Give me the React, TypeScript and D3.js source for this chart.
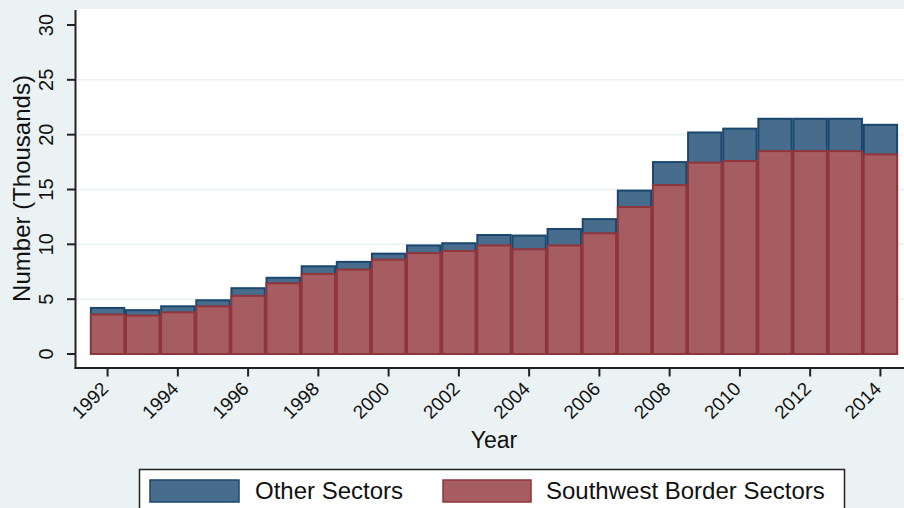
import React from "react";
import * as d3 from "d3";

const years = [1992, 1993, 1994, 1995, 1996, 1997, 1998, 1999, 2000, 2001, 2002, 2003, 2004, 2005, 2006, 2007, 2008, 2009, 2010, 2011, 2012, 2013, 2014];
// total apprehensions-style stacked heights (thousands): all sectors (blue top) and southwest border sectors (red)
const allSectors = [4.2, 4.0, 4.35, 4.9, 6.0, 6.95, 8.0, 8.4, 9.15, 9.9, 10.1, 10.85, 10.8, 11.4, 12.3, 14.9, 17.5, 20.2, 20.55, 21.45, 21.45, 21.45, 20.9];
const southwestSectors = [3.6, 3.5, 3.8, 4.35, 5.3, 6.45, 7.3, 7.7, 8.6, 9.2, 9.4, 9.9, 9.55, 9.9, 11.0, 13.4, 15.4, 17.45, 17.6, 18.5, 18.5, 18.5, 18.2];
const yTicks = [0, 5, 10, 15, 20, 25, 30];
const xTickYears = [1992, 1994, 1996, 1998, 2000, 2002, 2004, 2006, 2008, 2010, 2012, 2014];
const legendLabels = ["Other Sectors", "Southwest Border Sectors"];

const W = 904;
const H = 508;
const BG = "#eaf2f3";
const NAVY = "#1a476f";
const MAROON = "#90353b";
const NAVY_FILL = "#486c8c";
const MAROON_FILL = "#a65d62";
const FONT = "'Liberation Sans', Arial, sans-serif";

export default function App() {
  const plotLeft = 75.5;
  const plotTop = 9;
  const plotBottom = 368;

  const x = d3.scaleBand<number>().domain(years).range([90.2, 897.8]).paddingInner(0.05).paddingOuter(0.02);
  const y = d3.scaleLinear().domain([0, 30]).range([354, 25]);
  const cx = (yr: number) => (x(yr) as number) + x.bandwidth() / 2;

  return (
    <svg width={W} height={H} style={{ position: "absolute", left: 0, top: 0 }} fontFamily={FONT}>
      <rect x={0} y={0} width={W} height={H} fill={BG} />
      <rect x={plotLeft} y={plotTop} width={W - plotLeft} height={plotBottom - plotTop} fill="#ffffff" />
      {/* gridlines */}
      {yTicks.filter((t) => t > 0 && t < 30).map((t) => (
        <line key={"g" + t} x1={plotLeft} x2={W} y1={y(t)} y2={y(t)} stroke={BG} strokeWidth={1.5} />
      ))}
      {/* total bars (blue) */}
      {years.map((yr, i) => (
        <rect
          key={"b" + yr}
          x={x(yr)}
          y={y(allSectors[i])}
          width={x.bandwidth()}
          height={y(0) - y(allSectors[i])}
          fill={NAVY_FILL}
          stroke={NAVY}
          strokeWidth={2}
        />
      ))}
      {/* southwest bars (red) */}
      {years.map((yr, i) => (
        <rect
          key={"r" + yr}
          x={x(yr)}
          y={y(southwestSectors[i])}
          width={x.bandwidth()}
          height={y(0) - y(southwestSectors[i])}
          fill={MAROON_FILL}
          stroke={MAROON}
          strokeWidth={2}
        />
      ))}
      {/* axes */}
      <line x1={plotLeft} x2={plotLeft} y1={10} y2={plotBottom + 1} stroke="#222" strokeWidth={2} />
      <line x1={plotLeft - 1} x2={W} y1={plotBottom} y2={plotBottom} stroke="#222" strokeWidth={2} />
      {yTicks.map((t) => (
        <g key={"yt" + t}>
          <line x1={67} x2={plotLeft} y1={y(t)} y2={y(t)} stroke="#222" strokeWidth={2} />
          <text
            transform={`translate(53,${y(t)}) rotate(-90)`}
            textAnchor="middle"
            fontSize={20}
            fill="#111"
          >
            {t}
          </text>
        </g>
      ))}
      {xTickYears.map((yr) => (
        <g key={"xt" + yr}>
          <line x1={cx(yr)} x2={cx(yr)} y1={plotBottom} y2={376.5} stroke="#222" strokeWidth={2} />
          <text
            transform={`translate(${cx(yr) + 2},${390}) rotate(-45)`}
            textAnchor="end"
            fontSize={19}
            fill="#111"
          >
            {yr}
          </text>
        </g>
      ))}
      <text x={494} y={448} textAnchor="middle" fontSize={23} fill="#111">
        Year
      </text>
      <text transform={`translate(30,188.5) rotate(-90)`} textAnchor="middle" fontSize={24} fill="#111">
        Number (Thousands)
      </text>
      {/* legend */}
      <rect x={139.5} y={469.5} width={705} height={50} fill="#ffffff" stroke="#222" strokeWidth={1.5} />
      <rect x={150} y={480} width={89} height={22} fill={NAVY_FILL} stroke={NAVY} strokeWidth={1.5} />
      <text x={255} y={499} fontSize={24} fill="#111">
        {legendLabels[0]}
      </text>
      <rect x={443} y={480} width={88} height={22} fill={MAROON_FILL} stroke={MAROON} strokeWidth={1.5} />
      <text x={546} y={499} fontSize={24} fill="#111">
        {legendLabels[1]}
      </text>
    </svg>
  );
}
